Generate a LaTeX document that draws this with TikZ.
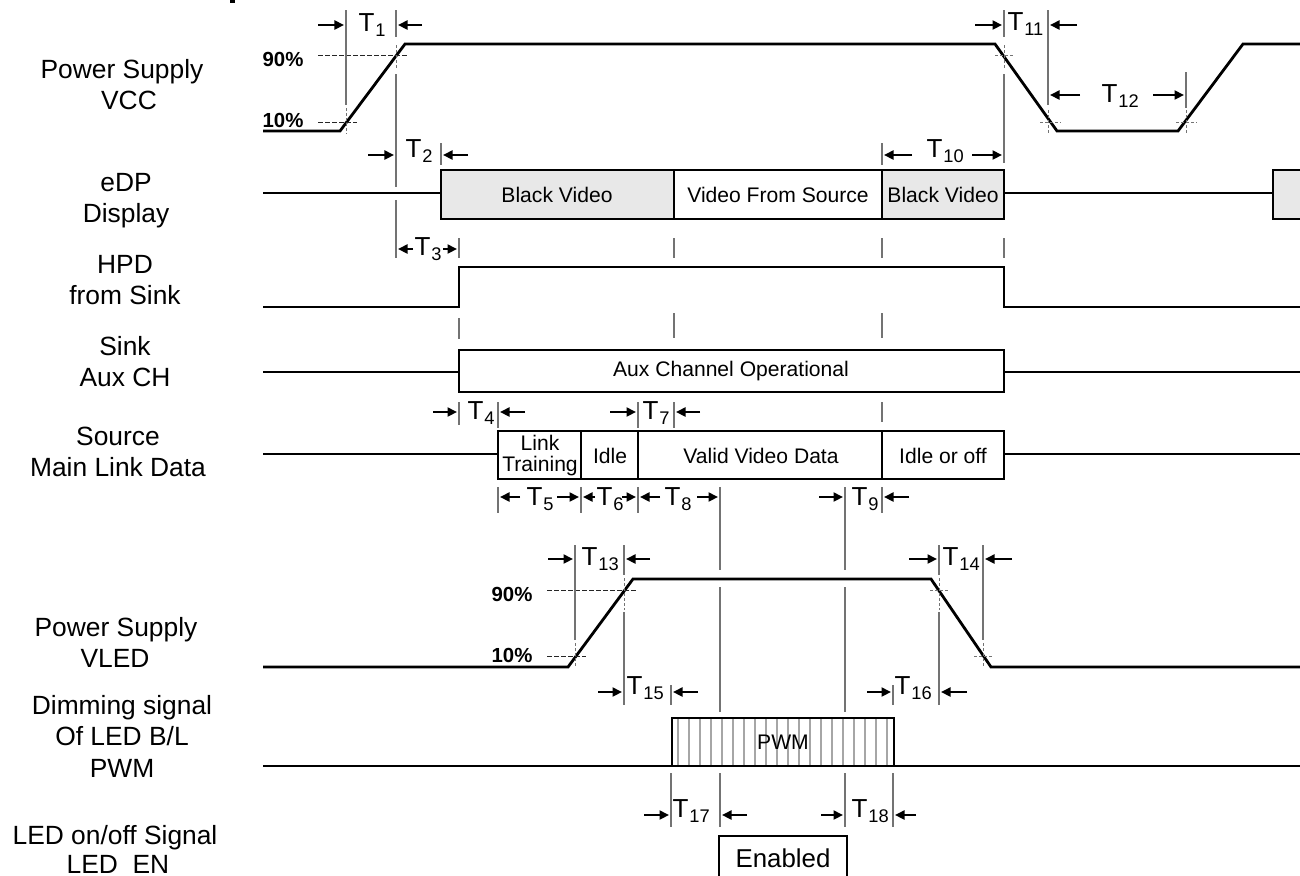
\documentclass[tikz,border=0pt]{standalone}
\usepackage{fontspec}
\setmainfont{Liberation Sans}
\usetikzlibrary{arrows.meta}
\newcommand\Tsub[1]{T\kern0.03em\raisebox{-1.5pt}{\fontsize{5.2}{6}\selectfont #1}}
\begin{document}
\begin{tikzpicture}[x=0.01cm,y=-0.01cm,
 sig/.style={line width=0.028cm, line join=miter},
 tk/.style={line width=0.011cm, black!55},
 dtk/.style={line width=0.01cm, black!55, dash pattern=on 0.03cm off 0.02cm},
 pct/.style={line width=0.01cm, black!85, dash pattern=on 0.045cm off 0.025cm},
 arr/.style={line width=0.021cm, -{Triangle[length=0.095cm,width=0.09cm]}},
 lab/.style={anchor=base, font=\fontsize{7.5}{9}\selectfont, inner sep=0},
 btxt/.style={font=\fontsize{6}{7}\selectfont, inner sep=0},
 tl/.style={font=\fontsize{7.4}{8}\selectfont, inner sep=0, anchor=base west},
 pc/.style={font=\bfseries\fontsize{5.8}{7}\selectfont, inner sep=0},
 shadebox/.style={sig, fill=black!9},
]
\useasboundingbox (0,0) rectangle (1300,875);
\fill (230,0) rectangle (235,3);

% ---------- left labels
\node[lab] (l1a) at (122,78) {Power Supply};
\node[lab] (l1b) at (129,109) {VCC};
\node[lab] (l2a) at (126,191) {eDP};
\node[lab] (l2b) at (126,222) {Display};
\node[lab] (l3a) at (125,273) {HPD};
\node[lab] (l3b) at (125,304) {from Sink};
\node[lab] (l4a) at (125,355) {Sink};
\node[lab] (l4b) at (125,386) {Aux CH};
\node[lab] (l5a) at (118,445) {Source};
\node[lab] (l5b) at (118,476) {Main Link Data};
\node[lab] (l6a) at (116,636) {Power Supply};
\node[lab] (l6b) at (115,667) {VLED};
\node[lab] (l7a) at (122,714) {Dimming signal};
\node[lab] (l7b) at (122,745) {Of LED B/L};
\node[lab] (l7c) at (122,777) {PWM};
\node[lab] (l8a) at (115,844) {LED on/off Signal};
\node[lab] (l8b) at (118,873) {LED\_EN};

% ---------- VCC
\draw[sig] (263,131) -- (340,131) -- (405,44) -- (995,44) -- (1057,131) -- (1178,131) -- (1243,44) -- (1320,44);
\draw[pct] (318,55) -- (407,55);
\draw[pct] (318,122) -- (357,122);
\node[pc] (p90a) at (283,59) {90\%};
\node[pc] (p10a) at (283,120) {10\%};
\draw[dtk] (995,55) -- (1015,55);
\draw[dtk] (1040,122) -- (1061,122);
\draw[dtk] (1176,122) -- (1197,122);

% ---------- eDP
\draw[sig] (263,193) -- (441,193);
\draw[shadebox] (441,170) rectangle (674,219);
\draw[sig] (674,170) rectangle (882,219);
\draw[shadebox] (882,170) rectangle (1004,219);
\draw[sig] (1004,193) -- (1273,193);
\draw[shadebox] (1273,170) rectangle (1320,219);
\node[btxt] (bv1) at (557,195) {Black Video};
\node[btxt] (vfs) at (778,195) {Video From Source};
\node[btxt] (bv2) at (943,195) {Black Video};

% ---------- HPD
\draw[sig] (263,307) -- (459,307) -- (459,267) -- (1004,267) -- (1004,307) -- (1320,307);

% ---------- Aux
\draw[sig] (263,372) -- (459,372);
\draw[sig] (459,350) rectangle (1004,392);
\draw[sig] (1004,372) -- (1320,372);
\node[btxt] (aux) at (731,371) {Aux Channel Operational};

% ---------- Main link
\draw[sig] (263,454) -- (498,454);
\draw[sig] (498,431) rectangle (581,479);
\draw[sig] (581,431) rectangle (638,479);
\draw[sig] (638,431) rectangle (882,479);
\draw[sig] (882,431) rectangle (1004,479);
\draw[sig] (1004,454) -- (1320,454);
\node[btxt] (lt1) at (540,443) {Link};
\node[btxt] (lt2) at (540,466) {Training};
\node[btxt] (idle) at (610,456) {Idle};
\node[btxt] (vvd) at (761,456) {Valid Video Data};
\node[btxt] (ioo) at (943,456) {Idle or off};

% ---------- VLED
\draw[sig] (263,667) -- (568,667) -- (633,579) -- (931,579) -- (991,667) -- (1320,667);
\draw[pct] (547,590) -- (636,590);
\draw[pct] (547,656) -- (586,656);
\node[pc] (p90b) at (512,594) {90\%};
\node[pc] (p10b) at (512,655) {10\%};
\draw[dtk] (930,590) -- (950,590);
\draw[dtk] (974,656) -- (994,656);

% ---------- PWM
\draw[sig] (263,766) -- (672,766);
\foreach \k in {0,...,19} \draw[black!35, line width=0.016cm] ({678+11*\k},718) -- ({678+11*\k},766);
\draw[sig] (672,718) rectangle (894,766);
\draw[sig] (894,766) -- (1320,766);
\node[btxt] (pwm) at (783,742) {PWM};

% ---------- LED EN
\draw[sig] (719,900) -- (719,836) -- (847,836) -- (847,900);
\node[font=\fontsize{7.35}{9}\selectfont, inner sep=0] (en) at (783,858) {Enabled};

% ---------- vertical reference lines
\draw[tk] (346,10) -- (346,105);  \draw[dtk] (346,108) -- (346,134);
\draw[tk] (396,10) -- (396,37);   \draw[dtk] (396,45) -- (396,68);
\draw[tk] (396,74) -- (396,187);  \draw[tk] (396,200) -- (396,258);
\draw[tk] (441,143) -- (441,165);
\draw[tk] (459,238) -- (459,258); \draw[tk] (459,318) -- (459,339); \draw[tk] (459,402) -- (459,425);
\draw[tk] (498,402) -- (498,428); \draw[tk] (498,487) -- (498,513);
\draw[tk] (581,487) -- (581,513);
\draw[tk] (638,402) -- (638,428); \draw[tk] (638,487) -- (638,513);
\draw[tk] (674,238) -- (674,258); \draw[tk] (674,313) -- (674,338); \draw[tk] (674,402) -- (674,428);
\draw[tk] (720,487) -- (720,570); \draw[tk] (720,587) -- (720,712); \draw[tk] (720,773) -- (720,827);
\draw[tk] (845,487) -- (845,570); \draw[tk] (845,587) -- (845,712); \draw[tk] (845,773) -- (845,827);
\draw[tk] (882,143) -- (882,165); \draw[tk] (882,238) -- (882,258); \draw[tk] (882,313) -- (882,338);
\draw[tk] (882,402) -- (882,422); \draw[tk] (882,487) -- (882,513);
\draw[tk] (1004,10) -- (1004,37); \draw[dtk] (1004,45) -- (1004,70);
\draw[tk] (1004,74) -- (1004,163); \draw[tk] (1004,238) -- (1004,258);
\draw[tk] (1048,10) -- (1048,105); \draw[dtk] (1048,110) -- (1048,134);
\draw[tk] (1186,72) -- (1186,108); \draw[dtk] (1186,110) -- (1186,134);
\draw[tk] (575,545) -- (575,640);  \draw[dtk] (575,643) -- (575,668);
\draw[tk] (624,545) -- (624,575);  \draw[dtk] (624,578) -- (624,610); \draw[tk] (624,612) -- (624,705);
\draw[tk] (671,685) -- (671,705);  \draw[tk] (671,773) -- (671,827);
\draw[tk] (893,685) -- (893,705);  \draw[tk] (893,773) -- (893,827);
\draw[tk] (939,545) -- (939,575);  \draw[dtk] (939,578) -- (939,610); \draw[tk] (939,612) -- (939,705);
\draw[tk] (983,545) -- (983,640);  \draw[dtk] (983,643) -- (983,668);

% ---------- timing arrows and labels
% T1
\draw[arr] (318,25) -- (344,25); \draw[arr] (422,25) -- (398,25);
\node[tl] (t1) at (358,31) {\Tsub{1}};
% T2
\draw[arr] (368,155) -- (394,155); \draw[arr] (468,155) -- (443,155);
\node[tl] (t2) at (405,157) {\Tsub{2}};
% T3
\draw[arr] (413,249) -- (398,249); \draw[arr] (443,249) -- (457,249);
\node[tl] (t3) at (414,255) {\Tsub{3}};
% T4
\draw[arr] (433,412) -- (457,412); \draw[arr] (525,412) -- (500,412);
\node[tl] (t4) at (467,419) {\Tsub{4}};
% T7
\draw[arr] (610,412) -- (636,412); \draw[arr] (700,412) -- (676,412);
\node[tl] (t7) at (642,419) {\Tsub{7}};
% T5
\draw[arr] (520,497) -- (500,497); \draw[arr] (557,497) -- (579,497);
\node[tl] (t5) at (526,505) {\Tsub{5}};
% T6
\draw[arr] (595,497) -- (583,497); \draw[arr] (622,497) -- (636,497);
\node[tl] (t6) at (596,505) {\Tsub{6}};
% T8
\draw[arr] (660,497) -- (640,497); \draw[arr] (697,497) -- (718,497);
\node[tl] (t8) at (664,505) {\Tsub{8}};
% T9
\draw[arr] (819,497) -- (843,497); \draw[arr] (909,497) -- (884,497);
\node[tl] (t9) at (851,505) {\Tsub{9}};
% T10
\draw[arr] (912,155) -- (884,155); \draw[arr] (972,155) -- (1002,155);
\node[tl] (t10) at (926,157) {\Tsub{10}};
% T11
\draw[arr] (975,25) -- (1002,25); \draw[arr] (1077,25) -- (1050,25);
\node[tl] (t11) at (1007,30) {\Tsub{11}};
% T12
\draw[arr] (1080,95) -- (1050,95); \draw[arr] (1153,95) -- (1184,95);
\node[tl] (t12) at (1101,102) {\Tsub{12}};
% T13
\draw[arr] (548,559) -- (573,559); \draw[arr] (650,559) -- (626,559);
\node[tl] (t13) at (581,565) {\Tsub{13}};
% T14
\draw[arr] (909,559) -- (937,559); \draw[arr] (1012,559) -- (985,559);
\node[tl] (t14) at (942,565) {\Tsub{14}};
% T15
\draw[arr] (598,692) -- (622,692); \draw[arr] (698,692) -- (673,692);
\node[tl] (t15) at (626,694) {\Tsub{15}};
% T16
\draw[arr] (867,692) -- (891,692); \draw[arr] (967,692) -- (941,692);
\node[tl] (t16) at (894,694) {\Tsub{16}};
% T17
\draw[arr] (644,815) -- (669,815); \draw[arr] (747,815) -- (722,815);
\node[tl] (t17) at (672,817) {\Tsub{17}};
% T18
\draw[arr] (821,815) -- (843,815); \draw[arr] (916,815) -- (895,815);
\node[tl] (t18) at (851,817) {\Tsub{18}};
\end{tikzpicture}
\end{document}
